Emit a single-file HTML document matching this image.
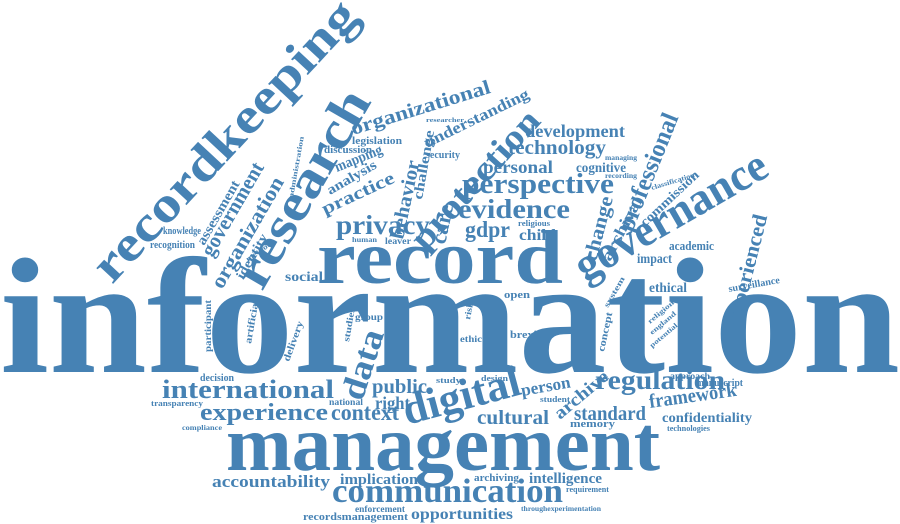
<!DOCTYPE html>
<html><head><meta charset="utf-8"><style>
html,body{margin:0;padding:0;background:#fff;width:900px;height:524px;overflow:hidden}
svg text{font-family:"Liberation Serif",serif;font-weight:bold;fill:#4682b4}
</style></head><body>
<svg width="900" height="524" viewBox="0 0 900 524">
<g>
<text x="0" y="372" font-size="165" textLength="900" lengthAdjust="spacingAndGlyphs">information</text>
<text x="226" y="470" font-size="78" textLength="434" lengthAdjust="spacingAndGlyphs">management</text>
<text x="317" y="283" font-size="76" textLength="246" lengthAdjust="spacingAndGlyphs">record</text>
<text transform="translate(112,285) rotate(-47)" font-size="50" textLength="365" lengthAdjust="spacingAndGlyphs">recordkeeping</text>
<text transform="translate(262,292) rotate(-60)" font-size="52" textLength="220" lengthAdjust="spacingAndGlyphs">research</text>
<text transform="translate(585,282) rotate(-30)" font-size="46" textLength="215" lengthAdjust="spacingAndGlyphs">governance</text>
<text transform="translate(425,252) rotate(-48)" font-size="35" textLength="175" lengthAdjust="spacingAndGlyphs">protection</text>
<text transform="translate(407,425) rotate(-15)" font-size="44" textLength="120" lengthAdjust="spacingAndGlyphs">digital</text>
<text transform="translate(362,402) rotate(-72)" font-size="34" textLength="72" lengthAdjust="spacingAndGlyphs">data</text>
<text x="332" y="502" font-size="34" textLength="231" lengthAdjust="spacingAndGlyphs">communication</text>
<text x="162" y="398" font-size="26" textLength="172" lengthAdjust="spacingAndGlyphs">international</text>
<text x="200" y="420" font-size="24" textLength="128" lengthAdjust="spacingAndGlyphs">experience</text>
<text x="331" y="420" font-size="23" textLength="68" lengthAdjust="spacingAndGlyphs">context</text>
<text x="372" y="393" font-size="20" textLength="55" lengthAdjust="spacingAndGlyphs">public</text>
<text x="375" y="409" font-size="18" textLength="35" lengthAdjust="spacingAndGlyphs">right</text>
<text x="462" y="193" font-size="28" textLength="152" lengthAdjust="spacingAndGlyphs">perspective</text>
<text x="458" y="218" font-size="27" textLength="112" lengthAdjust="spacingAndGlyphs">evidence</text>
<text x="336" y="234" font-size="27" textLength="94" lengthAdjust="spacingAndGlyphs">privacy</text>
<text x="465" y="237" font-size="23" textLength="45" lengthAdjust="spacingAndGlyphs">gdpr</text>
<text x="519" y="240" font-size="16" textLength="37" lengthAdjust="spacingAndGlyphs">child</text>
<text x="483" y="173" font-size="18" textLength="70" lengthAdjust="spacingAndGlyphs">personal</text>
<text x="508" y="154" font-size="20" textLength="98" lengthAdjust="spacingAndGlyphs">technology</text>
<text x="525" y="137" font-size="18" textLength="100" lengthAdjust="spacingAndGlyphs">development</text>
<text x="576" y="172" font-size="14" textLength="50" lengthAdjust="spacingAndGlyphs">cognitive</text>
<text transform="translate(353,135) rotate(-17)" font-size="20" textLength="145" lengthAdjust="spacingAndGlyphs">organizational</text>
<text transform="translate(427,148) rotate(-26)" font-size="16" textLength="115" lengthAdjust="spacingAndGlyphs">understanding</text>
<text transform="translate(403,240) rotate(-78)" font-size="20" textLength="80" lengthAdjust="spacingAndGlyphs">behavior</text>
<text transform="translate(445,245) rotate(-78)" font-size="22" textLength="40" lengthAdjust="spacingAndGlyphs">care</text>
<text transform="translate(422,200) rotate(-80)" font-size="14" textLength="70" lengthAdjust="spacingAndGlyphs">challenge</text>
<text transform="translate(325,215) rotate(-25)" font-size="18" textLength="78" lengthAdjust="spacingAndGlyphs">practice</text>
<text transform="translate(330,195) rotate(-30)" font-size="14" textLength="55" lengthAdjust="spacingAndGlyphs">analysis</text>
<text transform="translate(337,172) rotate(-22)" font-size="15" textLength="50" lengthAdjust="spacingAndGlyphs">mapping</text>
<text x="352" y="144" font-size="11" textLength="50" lengthAdjust="spacingAndGlyphs">legislation</text>
<text x="324" y="153" font-size="10" textLength="48" lengthAdjust="spacingAndGlyphs">discussion</text>
<text x="426" y="158" font-size="10" textLength="34" lengthAdjust="spacingAndGlyphs">security</text>
<text transform="translate(212,258) rotate(-60)" font-size="21" textLength="105" lengthAdjust="spacingAndGlyphs">government</text>
<text transform="translate(222,290) rotate(-60)" font-size="21" textLength="125" lengthAdjust="spacingAndGlyphs">organization</text>
<text transform="translate(204,246) rotate(-60)" font-size="14" textLength="72" lengthAdjust="spacingAndGlyphs">assessment</text>
<text transform="translate(243,280) rotate(-60)" font-size="13" textLength="50" lengthAdjust="spacingAndGlyphs">identity</text>
<text x="163" y="234" font-size="10" textLength="38" lengthAdjust="spacingAndGlyphs">knowledge</text>
<text x="150" y="248" font-size="10" textLength="45" lengthAdjust="spacingAndGlyphs">recognition</text>
<text x="285" y="281" font-size="14" textLength="38" lengthAdjust="spacingAndGlyphs">social</text>
<text transform="translate(632,233) rotate(-68)" font-size="25" textLength="125" lengthAdjust="spacingAndGlyphs">professional</text>
<text transform="translate(596,262) rotate(-75)" font-size="20" textLength="66" lengthAdjust="spacingAndGlyphs">change</text>
<text transform="translate(610,262) rotate(-62)" font-size="16" textLength="70" lengthAdjust="spacingAndGlyphs">archival</text>
<text transform="translate(645,227) rotate(-43)" font-size="13" textLength="75" lengthAdjust="spacingAndGlyphs">commission</text>
<text transform="translate(740,326) rotate(-76)" font-size="21" textLength="113" lengthAdjust="spacingAndGlyphs">experienced</text>
<text x="669" y="250" font-size="13" textLength="45" lengthAdjust="spacingAndGlyphs">academic</text>
<text x="637" y="263" font-size="14" textLength="35" lengthAdjust="spacingAndGlyphs">impact</text>
<text x="649" y="292" font-size="14" textLength="38" lengthAdjust="spacingAndGlyphs">ethical</text>
<text transform="translate(729,292) rotate(-10)" font-size="10" textLength="52" lengthAdjust="spacingAndGlyphs">surveillance</text>
<text x="595" y="389" font-size="27" textLength="130" lengthAdjust="spacingAndGlyphs">regulation</text>
<text transform="translate(650,408) rotate(-8)" font-size="20" textLength="88" lengthAdjust="spacingAndGlyphs">framework</text>
<text x="662" y="422" font-size="14" textLength="90" lengthAdjust="spacingAndGlyphs">confidentiality</text>
<text x="696" y="386" font-size="10" textLength="47" lengthAdjust="spacingAndGlyphs">manuscript</text>
<text x="670" y="379" font-size="9" textLength="40" lengthAdjust="spacingAndGlyphs">approach</text>
<text x="667" y="431" font-size="8" textLength="43" lengthAdjust="spacingAndGlyphs">technologies</text>
<text x="574" y="420" font-size="20" textLength="72" lengthAdjust="spacingAndGlyphs">standard</text>
<text x="570" y="427" font-size="10" textLength="45" lengthAdjust="spacingAndGlyphs">memory</text>
<text transform="translate(560,420) rotate(-40)" font-size="18" textLength="65" lengthAdjust="spacingAndGlyphs">archive</text>
<text x="477" y="424" font-size="20" textLength="72" lengthAdjust="spacingAndGlyphs">cultural</text>
<text transform="translate(522,396) rotate(-10)" font-size="17" textLength="50" lengthAdjust="spacingAndGlyphs">person</text>
<text x="212" y="487" font-size="17" textLength="118" lengthAdjust="spacingAndGlyphs">accountability</text>
<text x="340" y="484" font-size="15" textLength="78" lengthAdjust="spacingAndGlyphs">implication</text>
<text x="474" y="481" font-size="11" textLength="45" lengthAdjust="spacingAndGlyphs">archiving</text>
<text x="529" y="483" font-size="15" textLength="73" lengthAdjust="spacingAndGlyphs">intelligence</text>
<text x="566" y="492" font-size="8" textLength="43" lengthAdjust="spacingAndGlyphs">requirement</text>
<text x="355" y="512" font-size="9" textLength="50" lengthAdjust="spacingAndGlyphs">enforcement</text>
<text x="303" y="520" font-size="11" textLength="105" lengthAdjust="spacingAndGlyphs">recordsmanagement</text>
<text x="411" y="519" font-size="16" textLength="102" lengthAdjust="spacingAndGlyphs">opportunities</text>
<text x="521" y="511" font-size="7" textLength="80" lengthAdjust="spacingAndGlyphs">throughexperimentation</text>
<text x="200" y="381" font-size="10" textLength="34" lengthAdjust="spacingAndGlyphs">decision</text>
<text x="151" y="406" font-size="8" textLength="52" lengthAdjust="spacingAndGlyphs">transparency</text>
<text x="182" y="430" font-size="7" textLength="40" lengthAdjust="spacingAndGlyphs">compliance</text>
<text x="329" y="405" font-size="9" textLength="34" lengthAdjust="spacingAndGlyphs">national</text>
<text transform="translate(211,352) rotate(-90)" font-size="9" textLength="52" lengthAdjust="spacingAndGlyphs">participant</text>
<text transform="translate(251,344) rotate(-80)" font-size="10" textLength="44" lengthAdjust="spacingAndGlyphs">artificial</text>
<text transform="translate(289,362) rotate(-70)" font-size="10" textLength="42" lengthAdjust="spacingAndGlyphs">delivery</text>
<text transform="translate(349,342) rotate(-80)" font-size="9" textLength="34" lengthAdjust="spacingAndGlyphs">studies</text>
<text x="355" y="320" font-size="9" textLength="28" lengthAdjust="spacingAndGlyphs">group</text>
<text x="510" y="338" font-size="10" textLength="31" lengthAdjust="spacingAndGlyphs">brexit</text>
<text x="504" y="298" font-size="10" textLength="26" lengthAdjust="spacingAndGlyphs">open</text>
<text transform="translate(604,352) rotate(-78)" font-size="10" textLength="40" lengthAdjust="spacingAndGlyphs">concept</text>
<text transform="translate(608,308) rotate(-60)" font-size="8" textLength="34" lengthAdjust="spacingAndGlyphs">system</text>
<text x="460" y="342" font-size="9" textLength="22" lengthAdjust="spacingAndGlyphs">ethic</text>
<text transform="translate(470,320) rotate(-80)" font-size="9" textLength="18" lengthAdjust="spacingAndGlyphs">risk</text>
<text x="436" y="383" font-size="8" textLength="25" lengthAdjust="spacingAndGlyphs">study</text>
<text x="481" y="381" font-size="8" textLength="27" lengthAdjust="spacingAndGlyphs">design</text>
<text x="540" y="402" font-size="8" textLength="30" lengthAdjust="spacingAndGlyphs">student</text>
<text x="385" y="244" font-size="9" textLength="26" lengthAdjust="spacingAndGlyphs">leaver</text>
<text x="352" y="242" font-size="7" textLength="25" lengthAdjust="spacingAndGlyphs">human</text>
<text x="518" y="226" font-size="8" textLength="32" lengthAdjust="spacingAndGlyphs">religious</text>
<text x="605" y="160" font-size="7" textLength="32" lengthAdjust="spacingAndGlyphs">managing</text>
<text x="605" y="178" font-size="7" textLength="32" lengthAdjust="spacingAndGlyphs">recording</text>
<text transform="translate(652,190) rotate(-17)" font-size="7" textLength="45" lengthAdjust="spacingAndGlyphs">classification</text>
<text transform="translate(650,324) rotate(-40)" font-size="7" textLength="32" lengthAdjust="spacingAndGlyphs">religion</text>
<text transform="translate(652,335) rotate(-40)" font-size="7" textLength="32" lengthAdjust="spacingAndGlyphs">england</text>
<text transform="translate(652,348) rotate(-40)" font-size="7" textLength="34" lengthAdjust="spacingAndGlyphs">potential</text>
<text transform="translate(248,262) rotate(-35)" font-size="8" textLength="30" lengthAdjust="spacingAndGlyphs">method</text>
<text transform="translate(293,198) rotate(-80)" font-size="7" textLength="62" lengthAdjust="spacingAndGlyphs">administration</text>
<text x="426" y="122" font-size="6" textLength="38" lengthAdjust="spacingAndGlyphs">researcher</text>
</g>
</svg>
</body></html>
